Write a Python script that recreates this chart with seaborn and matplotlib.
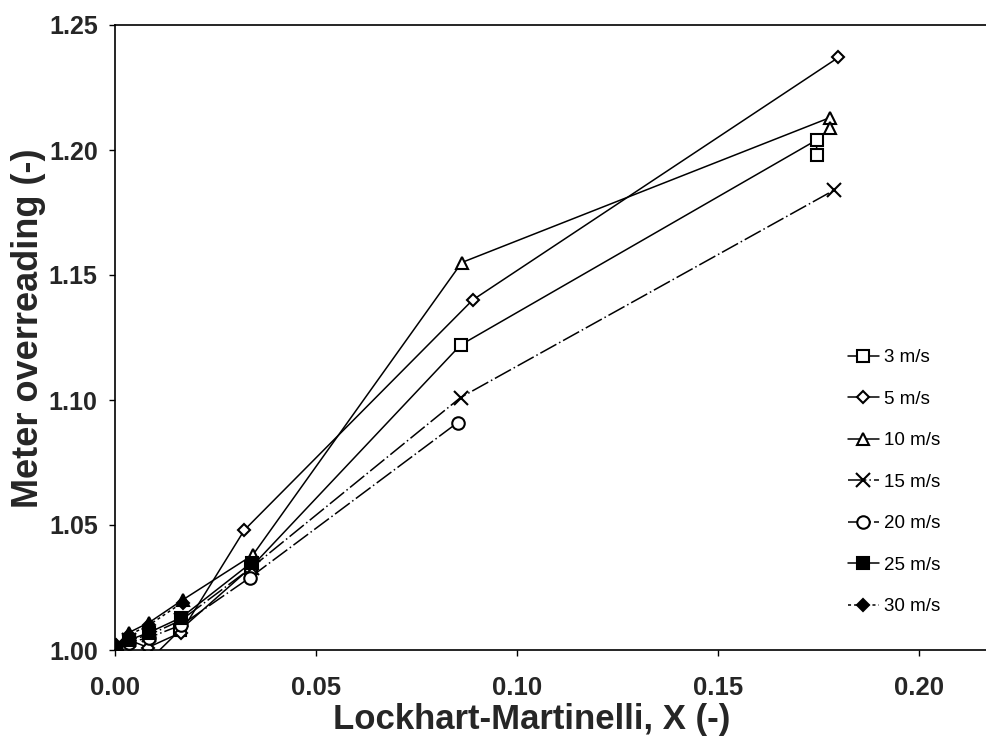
import matplotlib
matplotlib.use("Agg")
import matplotlib.pyplot as plt
import seaborn as sns
import pandas as pd

# ---- data ----
labels = ["3 m/s", "5 m/s", "10 m/s", "15 m/s", "20 m/s", "25 m/s", "30 m/s"]

x_3 = [0.0092, 0.0162, 0.0338, 0.0860, 0.1746, 0.1746]
y_3 = [0.997, 1.008, 1.033, 1.122, 1.204, 1.198]

x_5 = [0.0005, 0.0035, 0.0082, 0.0164, 0.0322, 0.0890, 0.1800]
y_5 = [1.000, 1.004, 1.001, 1.007, 1.048, 1.140, 1.237]

x_10 = [0.0003, 0.0035, 0.0085, 0.0168, 0.0343, 0.0863, 0.1780, 0.1780]
y_10 = [1.002, 1.007, 1.011, 1.020, 1.038, 1.155, 1.213, 1.209]

x_15 = [0.0003, 0.0035, 0.0085, 0.0165, 0.0340, 0.0860, 0.1790]
y_15 = [1.001, 1.004, 1.006, 1.012, 1.033, 1.101, 1.184]

x_20 = [0.0003, 0.0035, 0.0085, 0.0165, 0.0336, 0.0853]
y_20 = [1.000, 1.003, 1.005, 1.010, 1.029, 1.091]

x_25 = [0.0003, 0.0035, 0.0085, 0.0165, 0.0340]
y_25 = [1.001, 1.004, 1.007, 1.013, 1.035]

x_30 = [0.0003, 0.0035, 0.0085, 0.0168]
y_30 = [1.002, 1.006, 1.010, 1.019]

xs = [x_3, x_5, x_10, x_15, x_20, x_25, x_30]
ys = [y_3, y_5, y_10, y_15, y_20, y_25, y_30]

x_ticks = [0.00, 0.05, 0.10, 0.15, 0.20]
y_ticks = [1.00, 1.05, 1.10, 1.15, 1.20, 1.25]

# ---- styles ----
markers = ["s", "D", "^", "x", "o", "s", "D"]
msizes = [9, 6.5, 9, 9.5, 9, 8.5, 6.5]
faces = ["white", "white", "white", "black", "white", "black", "black"]
lstyles = ["-", "-", "-", (0, (12, 2, 1, 2)), (0, (12, 2, 1, 2)), "-", (0, (2, 2))]

sns.set_theme(style="white")
plt.rcParams["font.family"] = ["Liberation Sans", "DejaVu Sans"]
narrow = ["Liberation Sans Narrow", "Liberation Sans", "DejaVu Sans"]

fig = plt.figure(figsize=(9.87, 7.42), dpi=100)
W, H = 987, 742
ax = fig.add_axes([115 / W, (H - 650) / H, (W - 115) / W, (650 - 25) / H])

for lab, xv, yv, m, ms, fc, ls in zip(labels, xs, ys, markers, msizes, faces, lstyles):
    df = pd.DataFrame({"x": xv, "y": yv})
    sns.lineplot(data=df, x="x", y="y", ax=ax, sort=False, estimator=None,
                 color="black", linewidth=1.1, linestyle=ls,
                 marker=m, markersize=ms, markerfacecolor=fc,
                 markeredgecolor="black", markeredgewidth=1.5, label=lab)

ax.set_xlim(0, 0.217)
ax.set_ylim(1.0, 1.25)
ax.set_xticks(x_ticks)
ax.set_yticks(y_ticks)
ax.set_xticklabels([f"{v:.2f}" for v in x_ticks], fontsize=18.5, fontweight="bold",
                   family=narrow)
ax.set_yticklabels([f"{v:.2f}" for v in y_ticks], fontsize=18, fontweight="bold")

ax.tick_params(axis="both", direction="out", length=4.5, width=1, color="black",
               bottom=True, left=True)
ax.tick_params(axis="x", pad=14)
ax.tick_params(axis="y", pad=8)
for side in ["left", "bottom", "top"]:
    ax.spines[side].set_visible(True)
    ax.spines[side].set_color("black")
    ax.spines[side].set_linewidth(1.2)
ax.spines["right"].set_visible(False)

ax.set_xlabel("Lockhart-Martinelli, X (-)", fontsize=25, fontweight="bold", family=narrow)
ax.set_ylabel("Meter overreading (-)", fontsize=26, fontweight="bold")
ax.xaxis.set_label_coords((532 - 115) / (W - 115), -0.085)
ax.yaxis.set_label_coords((46 - 115) / (W - 115), 0.515)

leg = ax.legend(loc="upper left", bbox_to_anchor=((848 - 115) / (W - 115), 1 - (349 - 25) / 625),
                bbox_transform=ax.transAxes, frameon=False, fontsize=13.5,
                labelspacing=1.3, handlelength=1.65, handletextpad=0.25,
                borderaxespad=0, borderpad=0)
for t in leg.get_texts():
    t.set_color("black")

fig.savefig("out.png", dpi=100, facecolor="white")
